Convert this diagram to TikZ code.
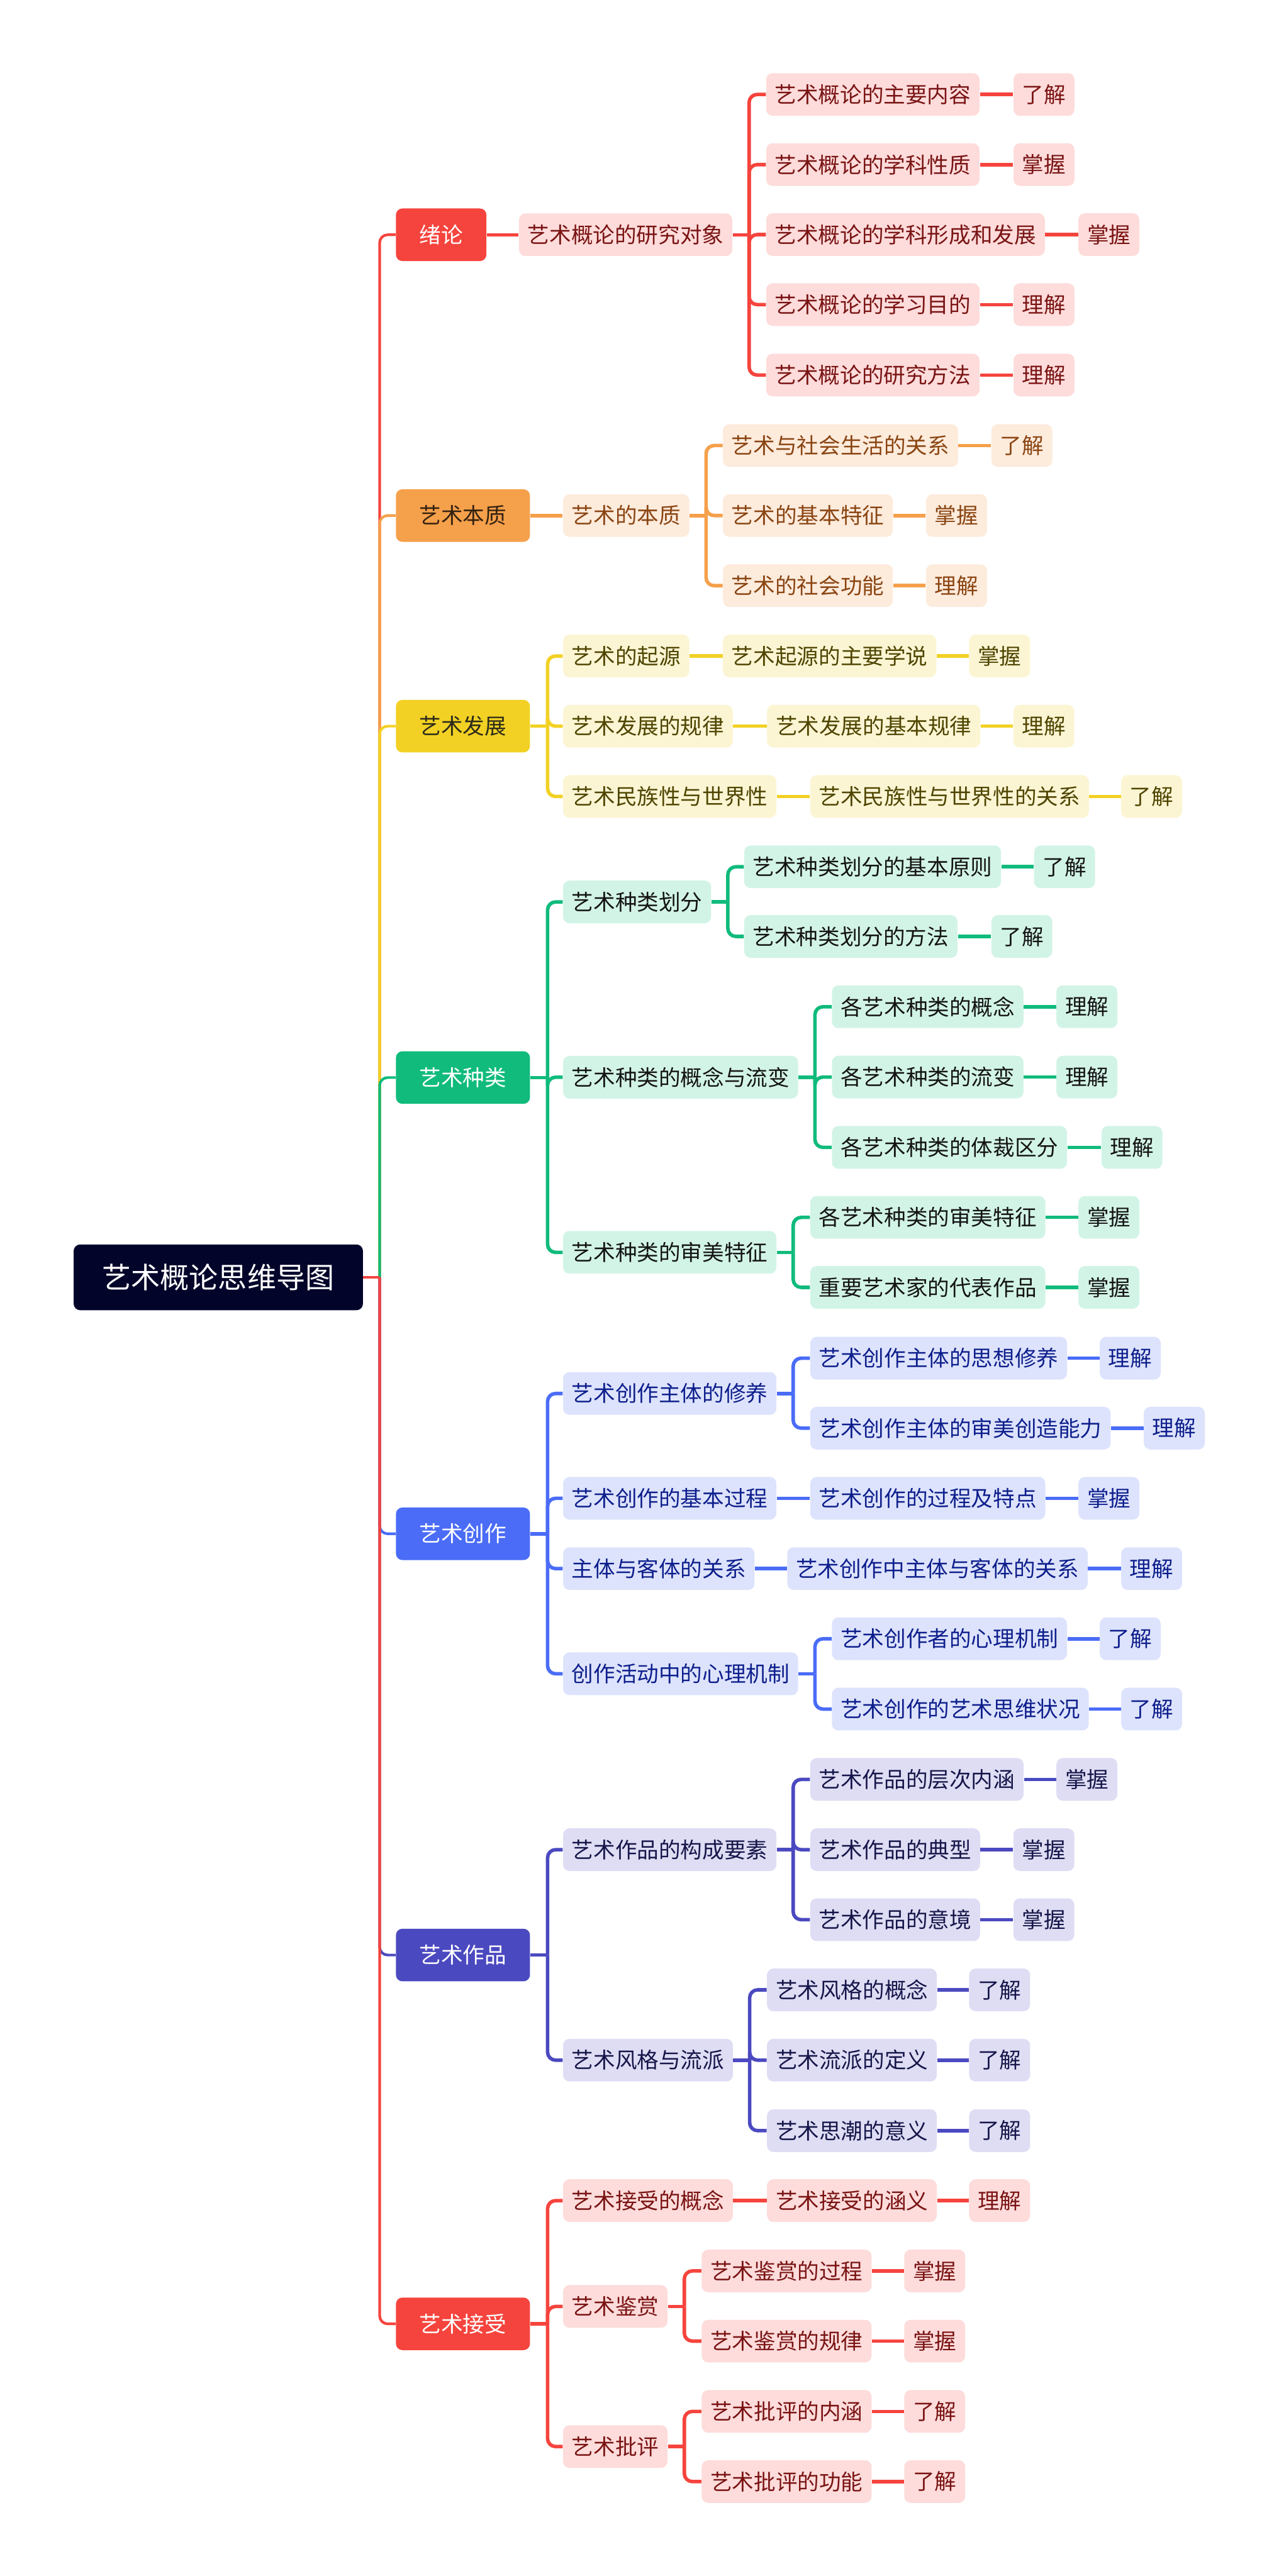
\documentclass[tikz,border=0pt]{standalone}
\usepackage{fontspec}
\setmainfont{Noto Sans CJK SC}
\usepackage{tikz}
\definecolor{rootC}{HTML}{03042A}
\definecolor{rdA}{HTML}{F5443D}\definecolor{rdB}{HTML}{FDDCDB}\definecolor{rdC}{HTML}{7A1414}
\definecolor{orA}{HTML}{F5A04B}\definecolor{orB}{HTML}{FDEBDC}\definecolor{orC}{HTML}{8A4512}\definecolor{orD}{HTML}{33210F}
\definecolor{ylA}{HTML}{F2D124}\definecolor{ylB}{HTML}{FCF5D4}\definecolor{ylC}{HTML}{4F4500}\definecolor{ylD}{HTML}{2B2A1A}
\definecolor{grA}{HTML}{10BB7C}\definecolor{grB}{HTML}{D2F4E6}\definecolor{grC}{HTML}{141414}
\definecolor{blA}{HTML}{4A6CF7}\definecolor{blB}{HTML}{DDE3FC}\definecolor{blC}{HTML}{0E1F8C}
\definecolor{inA}{HTML}{4B49C0}\definecolor{inB}{HTML}{DEDDF4}\definecolor{inC}{HTML}{16164A}
\tikzset{basebox/.style={anchor=west,rounded corners=0.13cm,inner ysep=0pt,inner xsep=0.174cm,minimum height=0.855cm,font=\fontsize{12.4}{14}\selectfont}}
\tikzset{rootbox/.style={basebox,fill=rootC,text=white,inner xsep=0.576cm,minimum height=1.316cm,font=\fontsize{16.5}{18}\selectfont}}
\tikzset{mainbox/.style={basebox,fill=#1A,text=white,inner xsep=0.47cm,minimum height=1.053cm}}
\tikzset{subbox/.style={basebox,fill=#1B,text=#1C}}
\tikzset{link/.style={draw=#1A,line width=2pt,rounded corners=0.16cm}}
\tikzset{trunk/.style={draw=#1A,line width=1.5pt,rounded corners=0.16cm}}
\begin{document}
\begin{tikzpicture}[x=0.0329cm,y=-0.0329cm]
\useasboundingbox(0,0)rectangle(778,1568);
\node(root)[rootbox]at(44.6,777.5){艺术概论思维导图};
% main topics
\node(n1)[mainbox=rd]at(240.7,142.9){绪论};
\node(n2)[mainbox=or,text=orD]at(240.7,313.8){艺术本质};
\node(n3)[mainbox=yl,text=ylD]at(240.7,442){艺术发展};
\node(n4)[mainbox=gr]at(240.7,655.9){艺术种类};
\node(n5)[mainbox=bl]at(240.7,933.6){艺术创作};
\node(n6)[mainbox=in]at(240.7,1190){艺术作品};
\node(n7)[mainbox=rd]at(240.7,1414.5){艺术接受};
\coordinate(rj)at(231,777.5);
\draw[trunk=rd](rj)|-(n1.west);\draw[trunk=or](rj)|-(n2.west);\draw[trunk=yl](rj)|-(n3.west);\draw[trunk=gr](rj)|-(n4.west);
\draw[trunk=bl](rj)|-(n5.west);\draw[trunk=in](rj)|-(n6.west);\draw[trunk=rd](rj)|-(n7.west);
\draw[trunk=rd](root.east)--(rj);
% 绪论
\node(a1)[subbox=rd]at(315.6,142.9){艺术概论的研究对象};
\node(a11)[subbox=rd]at(466,57.5){艺术概论的主要内容};\node(a11x)[subbox=rd]at(616.5,57.5){了解};
\node(a12)[subbox=rd]at(466,100.2){艺术概论的学科性质};\node(a12x)[subbox=rd]at(616.5,100.2){掌握};
\node(a13)[subbox=rd]at(466,142.8){艺术概论的学科形成和发展};\node(a13x)[subbox=rd]at(656,142.8){掌握};
\node(a14)[subbox=rd]at(466,185.4){艺术概论的学习目的};\node(a14x)[subbox=rd]at(616.5,185.4){理解};
\node(a15)[subbox=rd]at(466,228.3){艺术概论的研究方法};\node(a15x)[subbox=rd]at(616.5,228.3){理解};
\draw[link=rd](n1.east)--(a1.west);\draw[link=rd](a1.east)--++(10,0)coordinate(ja);
\draw[link=rd](ja)|-(a11.west);\draw[link=rd](ja)|-(a12.west);\draw[link=rd](ja)|-(a13.west);\draw[link=rd](ja)|-(a14.west);\draw[link=rd](ja)|-(a15.west);
\draw[link=rd](a11.east)--(a11x.west);\draw[link=rd](a12.east)--(a12x.west);\draw[link=rd](a13.east)--(a13x.west);\draw[link=rd](a14.east)--(a14x.west);\draw[link=rd](a15.east)--(a15x.west);
% 艺术本质
\node(b1)[subbox=or]at(342.4,313.8){艺术的本质};
\node(b11)[subbox=or]at(439.7,271.2){艺术与社会生活的关系};\node(b11x)[subbox=or]at(603,271.2){了解};
\node(b12)[subbox=or]at(439.7,313.8){艺术的基本特征};\node(b12x)[subbox=or]at(563.3,313.8){掌握};
\node(b13)[subbox=or]at(439.7,356.5){艺术的社会功能};\node(b13x)[subbox=or]at(563.3,356.5){理解};
\draw[link=or](n2.east)--(b1.west);\draw[link=or](b1.east)--++(10,0)coordinate(jb);
\draw[link=or](jb)|-(b11.west);\draw[link=or](jb)|-(b12.west);\draw[link=or](jb)|-(b13.west);
\draw[link=or](b11.east)--(b11x.west);\draw[link=or](b12.east)--(b12x.west);\draw[link=or](b13.east)--(b13x.west);
% 艺术发展
\node(c1)[subbox=yl]at(342.4,399.3){艺术的起源};\node(c11)[subbox=yl]at(439.7,399.3){艺术起源的主要学说};\node(c11x)[subbox=yl]at(589.5,399.3){掌握};
\node(c2)[subbox=yl]at(342.4,442){艺术发展的规律};\node(c21)[subbox=yl]at(466.5,442){艺术发展的基本规律};\node(c21x)[subbox=yl]at(616.4,442){理解};
\node(c3)[subbox=yl]at(342.4,484.8){艺术民族性与世界性};\node(c31)[subbox=yl]at(492.8,484.8){艺术民族性与世界性的关系};\node(c31x)[subbox=yl]at(682,484.8){了解};
\draw[link=yl](n3.east)--++(10.5,0)coordinate(jc);
\draw[link=yl](jc)|-(c1.west);\draw[link=yl](jc)|-(c2.west);\draw[link=yl](jc)|-(c3.west);
\draw[link=yl](c1.east)--(c11.west);\draw[link=yl](c11.east)--(c11x.west);\draw[link=yl](c2.east)--(c21.west);\draw[link=yl](c21.east)--(c21x.west);
\draw[link=yl](c3.east)--(c31.west);\draw[link=yl](c31.east)--(c31x.west);
% 艺术种类
\node(d1)[subbox=gr]at(342.4,549){艺术种类划分};
\node(d11)[subbox=gr]at(452.6,527.6){艺术种类划分的基本原则};\node(d11x)[subbox=gr]at(629,527.6){了解};
\node(d12)[subbox=gr]at(452.6,570){艺术种类划分的方法};\node(d12x)[subbox=gr]at(603,570){了解};
\node(d2)[subbox=gr]at(342.4,655.7){艺术种类的概念与流变};
\node(d21)[subbox=gr]at(506,612.8){各艺术种类的概念};\node(d21x)[subbox=gr]at(642.6,612.8){理解};
\node(d22)[subbox=gr]at(506,655.6){各艺术种类的流变};\node(d22x)[subbox=gr]at(642.6,655.6){理解};
\node(d23)[subbox=gr]at(506,698.4){各艺术种类的体裁区分};\node(d23x)[subbox=gr]at(670,698.4){理解};
\node(d3)[subbox=gr]at(342.4,762.3){艺术种类的审美特征};
\node(d31)[subbox=gr]at(492.8,741){各艺术种类的审美特征};\node(d31x)[subbox=gr]at(656,741){掌握};
\node(d32)[subbox=gr]at(492.8,783.6){重要艺术家的代表作品};\node(d32x)[subbox=gr]at(656,783.6){掌握};
\draw[link=gr](n4.east)--++(10.5,0)coordinate(jd);
\draw[link=gr](jd)|-(d1.west);\draw[link=gr](jd)|-(d2.west);\draw[link=gr](jd)|-(d3.west);
\draw[link=gr](d1.east)--++(10,0)coordinate(jd1);\draw[link=gr](jd1)|-(d11.west);\draw[link=gr](jd1)|-(d12.west);
\draw[link=gr](d2.east)--++(10,0)coordinate(jd2);\draw[link=gr](jd2)|-(d21.west);\draw[link=gr](jd2)|-(d22.west);\draw[link=gr](jd2)|-(d23.west);
\draw[link=gr](d3.east)--++(10,0)coordinate(jd3);\draw[link=gr](jd3)|-(d31.west);\draw[link=gr](jd3)|-(d32.west);
\draw[link=gr](d11.east)--(d11x.west);\draw[link=gr](d12.east)--(d12x.west);\draw[link=gr](d21.east)--(d21x.west);\draw[link=gr](d22.east)--(d22x.west);
\draw[link=gr](d23.east)--(d23x.west);\draw[link=gr](d31.east)--(d31x.west);\draw[link=gr](d32.east)--(d32x.west);
% 艺术创作
\node(e1)[subbox=bl]at(342.4,848.2){艺术创作主体的修养};
\node(e11)[subbox=bl]at(492.8,826.7){艺术创作主体的思想修养};\node(e11x)[subbox=bl]at(669,826.7){理解};
\node(e12)[subbox=bl]at(492.8,869.3){艺术创作主体的审美创造能力};\node(e12x)[subbox=bl]at(695.8,869.3){理解};
\node(e2)[subbox=bl]at(342.4,912){艺术创作的基本过程};\node(e21)[subbox=bl]at(492.8,912){艺术创作的过程及特点};\node(e21x)[subbox=bl]at(656,912){掌握};
\node(e3)[subbox=bl]at(342.4,954.8){主体与客体的关系};\node(e31)[subbox=bl]at(478.8,954.8){艺术创作中主体与客体的关系};\node(e31x)[subbox=bl]at(682,954.8){理解};
\node(e4)[subbox=bl]at(342.4,1018.8){创作活动中的心理机制};
\node(e41)[subbox=bl]at(506,997.5){艺术创作者的心理机制};\node(e41x)[subbox=bl]at(669,997.5){了解};
\node(e42)[subbox=bl]at(506,1040.3){艺术创作的艺术思维状况};\node(e42x)[subbox=bl]at(682,1040.3){了解};
\draw[link=bl](n5.east)--++(10.5,0)coordinate(je);
\draw[link=bl](je)|-(e1.west);\draw[link=bl](je)|-(e2.west);\draw[link=bl](je)|-(e3.west);\draw[link=bl](je)|-(e4.west);
\draw[link=bl](e1.east)--++(10,0)coordinate(je1);\draw[link=bl](je1)|-(e11.west);\draw[link=bl](je1)|-(e12.west);
\draw[link=bl](e4.east)--++(10,0)coordinate(je4);\draw[link=bl](je4)|-(e41.west);\draw[link=bl](je4)|-(e42.west);
\draw[link=bl](e2.east)--(e21.west);\draw[link=bl](e3.east)--(e31.west);
\draw[link=bl](e11.east)--(e11x.west);\draw[link=bl](e12.east)--(e12x.west);\draw[link=bl](e21.east)--(e21x.west);\draw[link=bl](e31.east)--(e31x.west);
\draw[link=bl](e41.east)--(e41x.west);\draw[link=bl](e42.east)--(e42x.west);
% 艺术作品
\node(f1)[subbox=in]at(342.4,1125.9){艺术作品的构成要素};
\node(f11)[subbox=in]at(492.8,1083.1){艺术作品的层次内涵};\node(f11x)[subbox=in]at(642.6,1083.1){掌握};
\node(f12)[subbox=in]at(492.8,1125.9){艺术作品的典型};\node(f12x)[subbox=in]at(616.4,1125.9){掌握};
\node(f13)[subbox=in]at(492.8,1168.5){艺术作品的意境};\node(f13x)[subbox=in]at(616.4,1168.5){掌握};
\node(f2)[subbox=in]at(342.4,1254){艺术风格与流派};
\node(f21)[subbox=in]at(466.5,1211.2){艺术风格的概念};\node(f21x)[subbox=in]at(589.5,1211.2){了解};
\node(f22)[subbox=in]at(466.5,1254){艺术流派的定义};\node(f22x)[subbox=in]at(589.5,1254){了解};
\node(f23)[subbox=in]at(466.5,1296.9){艺术思潮的意义};\node(f23x)[subbox=in]at(589.5,1296.9){了解};
\draw[link=in](n6.east)--++(10.5,0)coordinate(jf);
\draw[link=in](jf)|-(f1.west);\draw[link=in](jf)|-(f2.west);
\draw[link=in](f1.east)--++(10,0)coordinate(jf1);\draw[link=in](jf1)|-(f11.west);\draw[link=in](jf1)|-(f12.west);\draw[link=in](jf1)|-(f13.west);
\draw[link=in](f2.east)--++(10,0)coordinate(jf2);\draw[link=in](jf2)|-(f21.west);\draw[link=in](jf2)|-(f22.west);\draw[link=in](jf2)|-(f23.west);
\draw[link=in](f11.east)--(f11x.west);\draw[link=in](f12.east)--(f12x.west);\draw[link=in](f13.east)--(f13x.west);
\draw[link=in](f21.east)--(f21x.west);\draw[link=in](f22.east)--(f22x.west);\draw[link=in](f23.east)--(f23x.west);
% 艺术接受
\node(g1)[subbox=rd]at(342.4,1339.5){艺术接受的概念};\node(g11)[subbox=rd]at(466.5,1339.5){艺术接受的涵义};\node(g11x)[subbox=rd]at(589.5,1339.5){理解};
\node(g2)[subbox=rd]at(342.4,1403.9){艺术鉴赏};
\node(g21)[subbox=rd]at(426.8,1382.3){艺术鉴赏的过程};\node(g21x)[subbox=rd]at(550,1382.3){掌握};
\node(g22)[subbox=rd]at(426.8,1425){艺术鉴赏的规律};\node(g22x)[subbox=rd]at(550,1425){掌握};
\node(g3)[subbox=rd]at(342.4,1489.2){艺术批评};
\node(g31)[subbox=rd]at(426.8,1467.8){艺术批评的内涵};\node(g31x)[subbox=rd]at(550,1467.8){了解};
\node(g32)[subbox=rd]at(426.8,1510.5){艺术批评的功能};\node(g32x)[subbox=rd]at(550,1510.5){了解};
\draw[link=rd](n7.east)--++(10.5,0)coordinate(jg);
\draw[link=rd](jg)|-(g1.west);\draw[link=rd](jg)|-(g2.west);\draw[link=rd](jg)|-(g3.west);
\draw[link=rd](g1.east)--(g11.west);\draw[link=rd](g11.east)--(g11x.west);
\draw[link=rd](g2.east)--++(10,0)coordinate(jg2);\draw[link=rd](jg2)|-(g21.west);\draw[link=rd](jg2)|-(g22.west);
\draw[link=rd](g3.east)--++(10,0)coordinate(jg3);\draw[link=rd](jg3)|-(g31.west);\draw[link=rd](jg3)|-(g32.west);
\draw[link=rd](g21.east)--(g21x.west);\draw[link=rd](g22.east)--(g22x.west);\draw[link=rd](g31.east)--(g31x.west);\draw[link=rd](g32.east)--(g32x.west);
\end{tikzpicture}
\end{document}
